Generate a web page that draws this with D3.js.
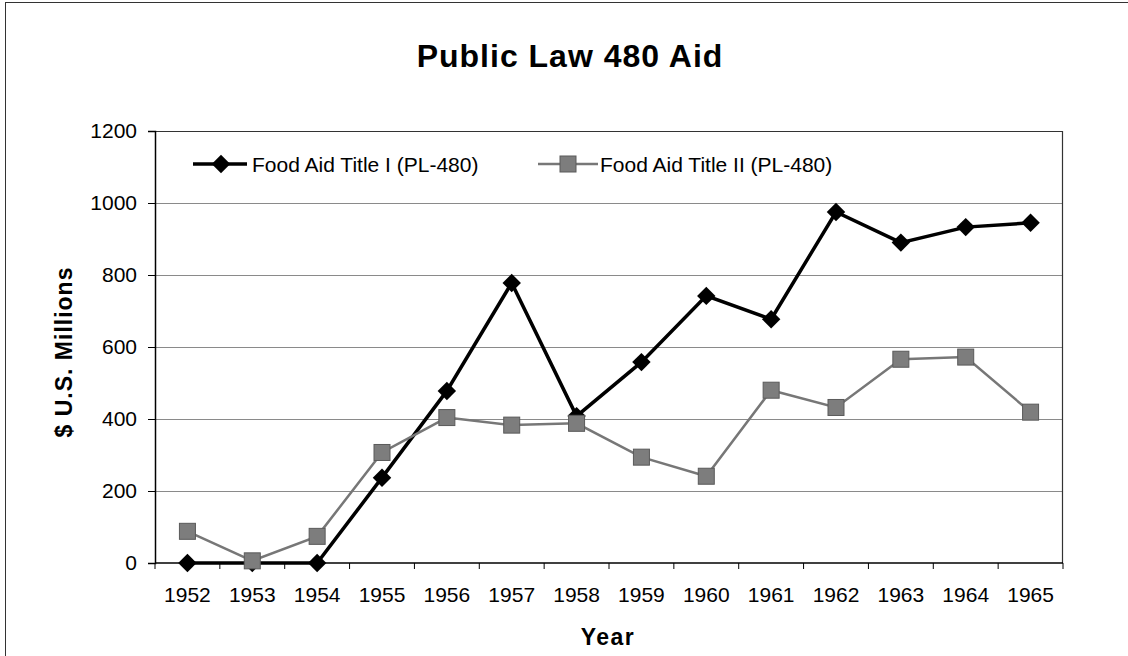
<!DOCTYPE html>
<html>
<head>
<meta charset="utf-8">
<script src="https://cdn.jsdelivr.net/npm/d3@7"></script>
<style>
  body { margin: 0; background: #fff; }
  text { font-family: Arial, "Liberation Sans", sans-serif; fill: #000; }
</style>
</head>
<body>
<div class="chart"></div>
<script>
// data
var years = ["1952", "1953", "1954", "1955", "1956", "1957", "1958", "1959", "1960", "1961", "1962", "1963", "1964", "1965"];
var titleOne = [0, 0, 0, 237, 478, 778, 408, 558, 742, 677, 975, 890, 933, 945];
var titleTwo = [88, 6, 74, 307, 404, 383, 388, 294, 241, 480, 432, 566, 572, 419];
var yTicks = [0, 200, 400, 600, 800, 1000, 1200];
var seriesNames = ["Food Aid Title I (PL-480)", "Food Aid Title II (PL-480)"];

var svgWidth = 1128;
var svgHeight = 656;
var margin = { top: 131, right: 65, bottom: 93, left: 155 };
var width = svgWidth - margin.left - margin.right;
var height = svgHeight - margin.top - margin.bottom;

var svg = d3.select(".chart")
  .append("svg")
  .attr("width", svgWidth)
  .attr("height", svgHeight);

// outer frame (only top and left edges show)
svg.append("line")
  .attr("x1", 5).attr("x2", svgWidth).attr("y1", 2.5).attr("y2", 2.5)
  .attr("stroke", "#333");
svg.append("line")
  .attr("x1", 5.5).attr("x2", 5.5).attr("y1", 2).attr("y2", svgHeight)
  .attr("stroke", "#333");

var chartGroup = svg.append("g")
  .attr("transform", `translate(${margin.left}, ${margin.top})`);

// scales
var xScale = d3.scaleBand().domain(years).range([0, width]);
var yScale = d3.scaleLinear().domain([0, 1200]).range([height, 0]);
var cx = d => xScale(d) + xScale.bandwidth() / 2;

// gridlines
chartGroup.selectAll(".grid")
  .data(yTicks.filter(t => t > 0 && t < 1200))
  .enter()
  .append("line")
  .attr("x1", 0).attr("x2", width)
  .attr("y1", d => Math.round(yScale(d)) + 0.5)
  .attr("y2", d => Math.round(yScale(d)) + 0.5)
  .attr("stroke", "#8a8a8a")
  .attr("stroke-width", 1);

// plot area border (top & right)
chartGroup.append("path")
  .attr("d", `M0,0.5H${width - 0.5}V${height}`)
  .attr("fill", "none")
  .attr("stroke", "#333")
  .attr("stroke-width", 1.2);

// y axis
var leftAxis = d3.axisLeft(yScale).tickValues(yTicks).tickSize(7).tickPadding(11).tickFormat(d3.format("d"));
var yAxisG = chartGroup.append("g").call(leftAxis);
yAxisG.select(".domain").attr("stroke", "#000").attr("stroke-width", 1.5);
yAxisG.selectAll(".tick line").attr("stroke", "#000");
yAxisG.selectAll("text").style("font-size", "21px").attr("fill", "#000");

// x axis: ticks at category boundaries
var xAxisG = chartGroup.append("g")
  .attr("transform", `translate(0, ${height})`);
xAxisG.append("line")
  .attr("x1", 0).attr("x2", width)
  .attr("y1", 0).attr("y2", 0)
  .attr("stroke", "#000").attr("stroke-width", 1.5);
xAxisG.selectAll(".xtick")
  .data(years.concat(["end"]))
  .enter()
  .append("line")
  .attr("x1", (d, i) => i * xScale.bandwidth())
  .attr("x2", (d, i) => i * xScale.bandwidth())
  .attr("y1", 0).attr("y2", 6)
  .attr("stroke", "#000");
xAxisG.selectAll(".xlabel")
  .data(years)
  .enter()
  .append("text")
  .attr("x", d => cx(d))
  .attr("y", 39)
  .attr("text-anchor", "middle")
  .style("font-size", "21px")
  .text(d => d);

// series lines and markers
var line = d3.line().x((d, i) => cx(years[i])).y(d => yScale(d));
var diamond = d3.symbol().type(d3.symbolSquare).size(170);

chartGroup.append("path")
  .datum(titleOne)
  .attr("d", line)
  .attr("fill", "none")
  .attr("stroke", "#000")
  .attr("stroke-width", 3.5);

chartGroup.selectAll(".dia")
  .data(titleOne)
  .enter()
  .append("path")
  .attr("d", diamond)
  .attr("transform", (d, i) => `translate(${cx(years[i])}, ${yScale(d)}) rotate(45)`)
  .attr("fill", "#000");

chartGroup.append("path")
  .datum(titleTwo)
  .attr("d", line)
  .attr("fill", "none")
  .attr("stroke", "#777")
  .attr("stroke-width", 2.5);

chartGroup.selectAll(".sq")
  .data(titleTwo)
  .enter()
  .append("rect")
  .attr("x", (d, i) => cx(years[i]) - 8)
  .attr("y", d => yScale(d) - 8)
  .attr("width", 16).attr("height", 16)
  .attr("fill", "#7d7d7d")
  .attr("stroke", "#5a5a5a")
  .attr("stroke-width", 1);

// legend
var legend = svg.append("g");
legend.append("line")
  .attr("x1", 193).attr("x2", 247).attr("y1", 164).attr("y2", 164)
  .attr("stroke", "#000").attr("stroke-width", 3.5);
legend.append("path")
  .attr("d", diamond)
  .attr("transform", "translate(221, 164) rotate(45)")
  .attr("fill", "#000");
legend.append("text")
  .attr("x", 252).attr("y", 172)
  .style("font-size", "21px")
  .text(seriesNames[0]);

legend.append("line")
  .attr("x1", 538).attr("x2", 598).attr("y1", 164).attr("y2", 164)
  .attr("stroke", "#777").attr("stroke-width", 2.5);
legend.append("rect")
  .attr("x", 560).attr("y", 156).attr("width", 16).attr("height", 16)
  .attr("fill", "#7d7d7d").attr("stroke", "#5a5a5a");
legend.append("text")
  .attr("x", 600).attr("y", 172)
  .style("font-size", "21px")
  .text(seriesNames[1]);

// title
svg.append("text")
  .attr("x", 570).attr("y", 67)
  .attr("text-anchor", "middle")
  .style("font-size", "32px")
  .style("font-weight", "bold")
  .style("letter-spacing", "1px")
  .text("Public Law 480 Aid");

// axis titles
svg.append("text")
  .attr("transform", "translate(72, 352) rotate(-90)")
  .attr("text-anchor", "middle")
  .style("font-size", "23px")
  .style("font-weight", "bold")
  .style("letter-spacing", "1px")
  .text("$ U.S. Millions");

svg.append("text")
  .attr("x", 608).attr("y", 645)
  .attr("text-anchor", "middle")
  .style("font-size", "23px")
  .style("font-weight", "bold")
  .style("letter-spacing", "1.5px")
  .text("Year");
</script>
</body>
</html>
